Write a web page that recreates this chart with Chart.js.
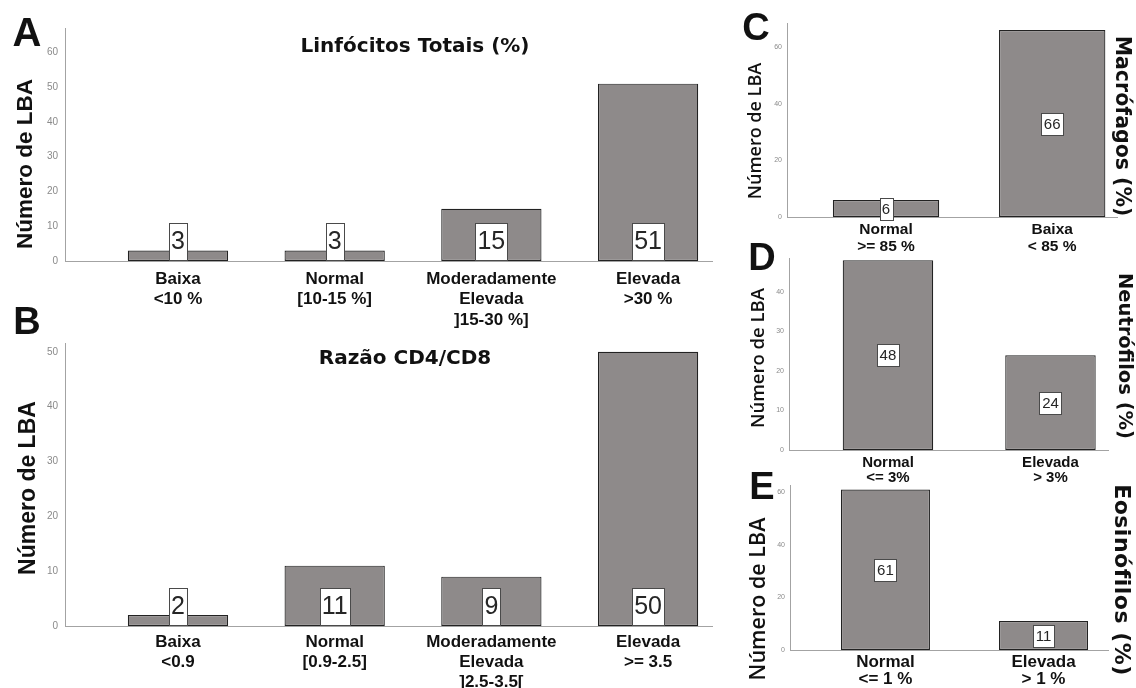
<!DOCTYPE html>
<html lang="pt">
<head>
<meta charset="utf-8">
<title>Contagens de LBA por categoria celular</title>
<script src="https://cdn.jsdelivr.net/npm/chart.js@4.4.1/dist/chart.umd.min.js"></script>
<style>
  html, body { margin: 0; padding: 0; background: #fff; }
  body { width: 1136px; height: 688px; position: relative; overflow: hidden; }
  canvas { position: absolute; }
  .t { position: absolute; white-space: nowrap; line-height: 1; color: #111; transform: translate(-50%, -50%); }
  .up { transform: translate(-50%, -50%) rotate(-90deg); }
  .down { transform: translate(-50%, -50%) rotate(90deg); }
  .letter { font-family: "Liberation Sans", Arial, sans-serif; font-weight: bold; }
  .head { font-family: "DejaVu Sans", sans-serif; font-weight: bold; }
  .ytitle { font-family: "Liberation Sans", Arial, sans-serif; font-weight: bold; }
  .ytitle2 { font-family: "Open Sans", sans-serif; font-weight: 600; }
</style>
</head>
<body>
<canvas id="cA" width="716" height="330" style="left:0;top:0"></canvas>
<canvas id="cB" width="716" height="358" style="left:0;top:330px"></canvas>
<canvas id="cC" width="420" height="255" style="left:700px;top:0"></canvas>
<canvas id="cD" width="420" height="245" style="left:700px;top:240px"></canvas>
<canvas id="cE" width="420" height="218" style="left:700px;top:470px"></canvas>

<div class="t letter" style="left:27px;top:32px;font-size:40px">A</div>
<div class="t letter" style="left:27px;top:321px;font-size:38px">B</div>
<div class="t letter" style="left:756px;top:27px;font-size:38px">C</div>
<div class="t letter" style="left:762px;top:257px;font-size:38px">D</div>
<div class="t letter" style="left:762px;top:486px;font-size:38px">E</div>

<div class="t head" style="left:415px;top:45px;font-size:20px">Linfócitos Totais (%)</div>
<div class="t head" style="left:405px;top:357px;font-size:20px">Razão CD4/CD8</div>

<div class="t ytitle up" style="left:25px;top:164px;font-size:22.5px">Número de LBA</div>
<div class="t ytitle up" style="left:27px;top:488px;font-size:23px">Número de LBA</div>
<div class="t ytitle2 up" style="left:754px;top:131px;font-size:18px">Número de LBA</div>
<div class="t ytitle2 up" style="left:757px;top:358px;font-size:18.5px">Número de LBA</div>
<div class="t ytitle2 up" style="left:757px;top:599px;font-size:21.5px">Número de LBA</div>

<div class="t head down" style="left:1123px;top:126px;font-size:20.5px">Macrófagos (%)</div>
<div class="t head down" style="left:1125px;top:356px;font-size:19.5px">Neutrófilos (%)</div>
<div class="t head down" style="left:1122px;top:580px;font-size:22px;letter-spacing:0.5px">Eosinófilos (%)</div>

<script>
// Linfócitos totais (%)
const linfCategorias = [['Baixa', '<10 %'], ['Normal', '[10-15 %]'], ['Moderadamente', 'Elevada', ']15-30 %]'], ['Elevada', '>30 %']];
const linfValores = [3, 3, 15, 51];

// Razão CD4/CD8
const cd4cd8Categorias = [['Baixa', '<0.9'], ['Normal', '[0.9-2.5]'], ['Moderadamente', 'Elevada', ']2.5-3.5['], ['Elevada', '>= 3.5']];
const cd4cd8Valores = [2, 11, 9, 50];

// Macrófagos (%)
const macroCategorias = [['Normal', '>= 85 %'], ['Baixa', '< 85 %']];
const macroValores = [6, 66];

// Neutrófilos (%)
const neutroCategorias = [['Normal', '<= 3%'], ['Elevada', '> 3%']];
const neutroValores = [48, 24];

// Eosinófilos (%)
const eosinoCategorias = [['Normal', '<= 1 %'], ['Elevada', '> 1 %']];
const eosinoValores = [61, 11];

const BAR_FILL = '#8e8a8a';
const BAR_EDGE = '#222222';
const AXIS = '#a3a3a3';
const SANS = '"Liberation Sans", Arial, sans-serif';

// White count boxes drawn on each bar, either resting on the base or centred.
const valueBoxes = {
  id: 'valueBoxes',
  afterDatasetsDraw(chart, args, opts) {
    const ctx = chart.ctx;
    const meta = chart.getDatasetMeta(0);
    const ds = chart.data.datasets[0];
    ctx.save();
    ctx.font = opts.size + 'px ' + SANS;
    ctx.textAlign = 'center';
    ctx.textBaseline = 'middle';
    meta.data.forEach((bar, i) => {
      const txt = String(ds.data[i].y);
      const w = Math.round(ctx.measureText(txt).width + opts.padX * 2);
      const h = opts.boxH;
      const cy = opts.place === 'base' ? bar.base - h / 2 - 1 : (bar.y + bar.base) / 2;
      const x0 = Math.round(bar.x - w / 2) + 0.5;
      const y0 = Math.round(cy - h / 2) + 0.5;
      ctx.fillStyle = '#fff';
      ctx.fillRect(x0, y0, w, h);
      ctx.strokeStyle = '#4a4a4a';
      ctx.lineWidth = 1;
      ctx.strokeRect(x0, y0, w, h);
      ctx.fillStyle = '#262626';
      ctx.fillText(txt, bar.x, cy + 1);
    });
    ctx.restore();
  }
};

function barPanel(id, cats, vals, o) {
  return new Chart(document.getElementById(id), {
    type: 'bar',
    data: {
      datasets: [{
        data: vals.map((v, i) => ({ x: i + 1, y: v })),
        backgroundColor: BAR_FILL,
        borderColor: BAR_EDGE,
        borderWidth: 1.2,
        borderSkipped: false,
        barPercentage: o.barPct,
        categoryPercentage: 0.8
      }]
    },
    options: {
      responsive: false,
      animation: false,
      events: [],
      layout: { padding: { left: 0, top: o.padTop, right: o.padRight, bottom: 0 } },
      plugins: {
        legend: { display: false },
        tooltip: { enabled: false },
        title: { display: false },
        valueBoxes: o.boxes
      },
      scales: {
        x: {
          type: 'linear',
          min: o.xMin,
          max: o.xMax,
          offset: false,
          grid: { display: false, drawTicks: false },
          border: { display: true, color: AXIS, width: 1 },
          afterBuildTicks: s => { s.ticks = cats.map((_, i) => ({ value: i + 1 })); },
          afterFit: s => { s.height = o.xHeight; },
          ticks: {
            stepSize: 1,
            includeBounds: false,
            autoSkip: false,
            maxRotation: 0,
            minRotation: 0,
            padding: o.xPad,
            color: '#111',
            font: { family: SANS, weight: 'bold', size: o.xFont, lineHeight: o.xLine },
            callback: (v, i) => cats[i]
          }
        },
        y: {
          type: 'linear',
          min: 0,
          max: o.yMax,
          grid: { display: false, drawTicks: false },
          border: { display: true, color: AXIS, width: 1 },
          afterFit: s => { s.width = o.yWidth; },
          ticks: {
            stepSize: o.yStep,
            includeBounds: false,
            padding: o.yPad,
            color: '#8a8a8a',
            font: { family: SANS, size: o.yFont }
          }
        }
      }
    },
    plugins: [valueBoxes]
  });
}

const baseBoxes = { place: 'base', size: 25, boxH: 37, padX: 2 };
const midBoxes = { place: 'center', size: 15, boxH: 22, padX: 2.5 };

barPanel('cA', linfCategorias, linfValores, {
  padTop: 28, padRight: 4, yWidth: 65, xHeight: 69,
  xMin: 0.279, xMax: 4.408, barPct: 0.8,
  yMax: 67, yStep: 10, yFont: 10, yPad: 7,
  xFont: 17, xLine: 1.2, xPad: 8, boxes: baseBoxes
});

barPanel('cB', cd4cd8Categorias, cd4cd8Valores, {
  padTop: 8, padRight: 4, yWidth: 65, xHeight: 62,
  xMin: 0.279, xMax: 4.408, barPct: 0.8,
  yMax: 51.6, yStep: 10, yFont: 10, yPad: 7,
  xFont: 17, xLine: 1.15, xPad: 7, boxes: baseBoxes
});

barPanel('cC', macroCategorias, macroValores, {
  padTop: 23, padRight: 3, yWidth: 87, xHeight: 38,
  xMin: 0.404, xMax: 2.39, barPct: 0.8,
  yMax: 68.5, yStep: 20, yFont: 7, yPad: 5,
  xFont: 15.5, xLine: 1.1, xPad: 4, boxes: midBoxes
});

barPanel('cD', neutroCategorias, neutroValores, {
  padTop: 18, padRight: 12, yWidth: 89, xHeight: 35,
  xMin: 0.391, xMax: 2.354, barPct: 0.696,
  yMax: 48.6, yStep: 10, yFont: 7, yPad: 5,
  xFont: 15, xLine: 1.0, xPad: 5.5, boxes: midBoxes
});

barPanel('cE', eosinoCategorias, eosinoValores, {
  padTop: 15, padRight: 12, yWidth: 90, xHeight: 38,
  xMin: 0.396, xMax: 2.408, barPct: 0.704,
  yMax: 62.7, yStep: 20, yFont: 7, yPad: 5,
  xFont: 17, xLine: 1.0, xPad: 4, boxes: midBoxes
});
</script>
</body>
</html>
